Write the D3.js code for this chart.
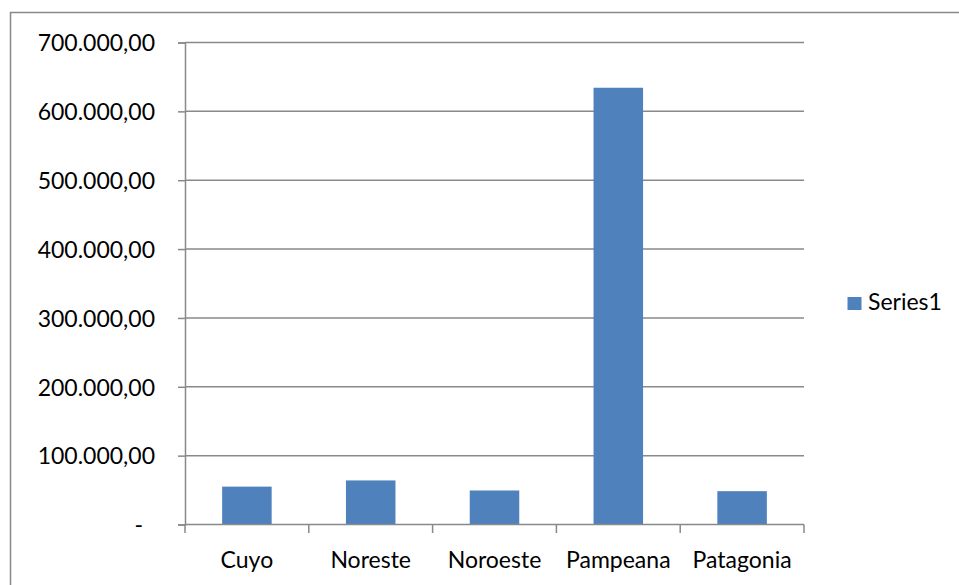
<!DOCTYPE html>
<html><head><meta charset="utf-8">
<script src="https://cdn.jsdelivr.net/npm/d3@7"></script>
<style>html,body{margin:0;padding:0;background:#fff;}svg{display:block;}</style>
</head><body>
<svg id="c" width="959" height="585"></svg>
<script>
const categories = ["Cuyo", "Noreste", "Noroeste", "Pampeana", "Patagonia"];
const series1 = [55000, 64000, 49400, 634300, 48400];
const seriesName = "Series1";
const yTicks = [0, 100000, 200000, 300000, 400000, 500000, 600000, 700000];

(function () {
const svg = d3.select("#c");
const font = "Lato, 'Open Sans', sans-serif";
const grid = "#898989";
const barColor = "#4F81BD";

const pLeft = 185, pRight = 804, pTop = 42.5, pBottom = 524.5;

svg.append("rect").attr("x", 10.5).attr("y", 12.5).attr("width", 960).attr("height", 600)
  .attr("fill", "#fff").attr("stroke", "#888").attr("stroke-width", 1.5);

const x = d3.scaleBand().domain(categories).range([pLeft, pRight]).paddingInner(0.6).paddingOuter(0.3);
const y = d3.scaleLinear().domain([0, 700000]).range([pBottom, pTop]);

const numFmt = d3.formatLocale({decimal: ",", thousands: ".", grouping: [3], currency: ["", ""]}).format(",.2f");
const fmt = v => v === 0 ? "-" : numFmt(v);

// y axis
const yAxis = svg.append("g").attr("transform", `translate(${pLeft},0)`)
  .call(d3.axisLeft(y).tickValues(yTicks).tickFormat(fmt).tickSize(7).tickPadding(23));
yAxis.select(".domain").attr("stroke", grid).attr("stroke-width", 1.5);
yAxis.selectAll(".tick line").attr("stroke", grid).attr("stroke-width", 1.5);
yAxis.selectAll(".tick text").attr("font-family", font).attr("font-size", 23).attr("fill", "#000")
  .attr("dy", "0.36em");
yAxis.selectAll(".tick").filter(d => d === 0).select("text").attr("x", -42);

// gridlines
svg.append("g").selectAll("line").data(yTicks.filter(d => d > 0)).join("line")
  .attr("x1", pLeft).attr("x2", pRight).attr("y1", d => y(d)).attr("y2", d => y(d))
  .attr("stroke", grid).attr("stroke-width", 1.5);

// bars
svg.append("g").selectAll("rect").data(series1).join("rect")
  .attr("x", (d, i) => x(categories[i])).attr("width", x.bandwidth())
  .attr("y", d => y(d)).attr("height", d => y(0) - y(d))
  .attr("fill", barColor);

// x axis
const xb = d3.scaleBand().domain(categories).range([pLeft, pRight]);
const xAxis = svg.append("g").attr("transform", `translate(0,${pBottom})`)
  .call(d3.axisBottom(xb).tickSize(0).tickPadding(0));
xAxis.select(".domain").remove();
xAxis.selectAll(".tick text").attr("font-family", font).attr("font-size", 23).attr("fill", "#000")
  .attr("y", 43).attr("dy", 0);
const bounds = categories.map(c => xb(c)).concat([pRight]);
svg.append("g").selectAll("line").data(bounds).join("line")
  .attr("x1", d => d).attr("x2", d => d).attr("y1", pBottom).attr("y2", pBottom + 8.5)
  .attr("stroke", grid).attr("stroke-width", 1.5);
svg.append("line").attr("x1", pLeft).attr("x2", pRight).attr("y1", pBottom).attr("y2", pBottom)
  .attr("stroke", grid).attr("stroke-width", 1.5);

// legend
const lg = svg.append("g");
lg.append("rect").attr("x", 847.5).attr("y", 297).attr("width", 14).attr("height", 13).attr("fill", barColor);
lg.append("text").attr("x", 868).attr("y", 310).attr("font-family", font).attr("font-size", 23)
  .attr("fill", "#000").text(seriesName);
})();
</script>
</body></html>
